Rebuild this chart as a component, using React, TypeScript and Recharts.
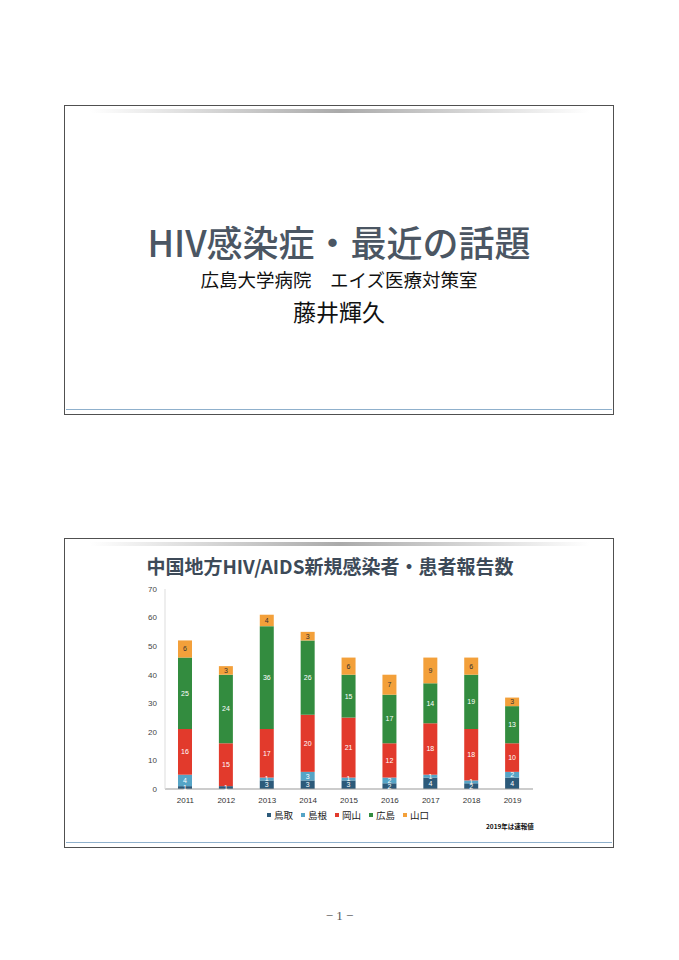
import React from 'react';
import { BarChart, Bar, XAxis, YAxis, LabelList } from 'recharts';

const years = ['2011', '2012', '2013', '2014', '2015', '2016', '2017', '2018', '2019'];
const tottori = [1, 1, 3, 3, 3, 2, 4, 2, 4];
const shimane = [4, 0, 1, 3, 1, 2, 1, 1, 2];
const okayama = [16, 15, 17, 20, 21, 12, 18, 18, 10];
const hiroshima = [25, 24, 36, 26, 15, 17, 14, 19, 13];
const yamaguchi = [6, 3, 4, 3, 6, 7, 9, 6, 3];
const yTicks = [0, 10, 20, 30, 40, 50, 60, 70];

const series = [
  { key: 'tottori', name: '鳥取', color: '#2c5a7a', label: '#ffffff' },
  { key: 'shimane', name: '島根', color: '#55a4c6', label: '#ffffff' },
  { key: 'okayama', name: '岡山', color: '#e23a2c', label: '#ffffff' },
  { key: 'hiroshima', name: '広島', color: '#338c3f', label: '#ffffff' },
  { key: 'yamaguchi', name: '山口', color: '#f3a03a', label: '#333333' },
];

const data = years.map((year, i) => ({
  year,
  tottori: tottori[i],
  shimane: shimane[i],
  okayama: okayama[i],
  hiroshima: hiroshima[i],
  yamaguchi: yamaguchi[i],
}));

const jp = '"Noto Sans CJK JP", "Noto Sans", sans-serif';
const latin = 'Liberation Sans, Arial, sans-serif';

const Frame = ({ top }: { top: number }) => (
  <>
    <div
      style={{
        position: 'absolute',
        left: 64,
        top,
        width: 550,
        height: 310,
        border: '1.5px solid #505050',
        boxSizing: 'border-box',
        background: '#fff',
      }}
    />
    <div
      style={{
        position: 'absolute',
        left: 90,
        top: top + 4,
        width: 500,
        height: 4,
        background: 'linear-gradient(to right, rgba(200,200,200,0), #aaa 50%, rgba(200,200,200,0))',
      }}
    />
    <div
      style={{
        position: 'absolute',
        left: 66,
        top: top + 304,
        width: 546,
        height: 1,
        background: '#8fb0cc',
      }}
    />
  </>
);

export default function App() {
  return (
    <div style={{ position: 'absolute', left: 0, top: 0, width: 679, height: 960, background: '#fff', fontFamily: jp }}>
      <Frame top={105} />
      <Frame top={538} />

      <div style={{ position: 'absolute', left: 64, width: 550, top: 218, textAlign: 'center', fontSize: 36, fontWeight: 500, color: '#4b5663', lineHeight: '46px' }}>
        HIV感染症・最近の話題
      </div>
      <div style={{ position: 'absolute', left: 64, width: 550, top: 267, textAlign: 'center', fontSize: 18.5, color: '#111', lineHeight: '24px' }}>
        広島大学病院　エイズ医療対策室
      </div>
      <div style={{ position: 'absolute', left: 64, width: 550, top: 296, textAlign: 'center', fontSize: 23, color: '#111', lineHeight: '30px' }}>
        藤井輝久
      </div>

      <div style={{ position: 'absolute', left: 55, width: 550, top: 552, textAlign: 'center', fontSize: 19, fontWeight: 700, color: '#3d4a58', lineHeight: '27px' }}>
        中国地方HIV/AIDS新規感染者・患者報告数
      </div>

      <div style={{ position: 'absolute', left: 115, top: 580 }}>
        <BarChart
          width={430}
          height={228}
          data={data}
          margin={{ top: 9, right: 12, left: 0, bottom: 0 }}
          barSize={14}
        >
          <XAxis
            dataKey="year"
            tickLine={false}
            axisLine={{ stroke: '#999' }}
            tick={{ fontSize: 8, fill: '#333', fontFamily: latin }}
            height={19}
          />
          <YAxis
            domain={[0, 70]}
            ticks={yTicks}
            width={50}
            tickLine={false}
            axisLine={{ stroke: '#ddd' }}
            tick={{ fontSize: 8, fill: '#444', fontFamily: latin }}
            interval={0}
          />
          {series.map((s) => (
            <Bar key={s.key} dataKey={s.key} name={s.name} stackId="a" fill={s.color} isAnimationActive={false}>
              <LabelList dataKey={s.key} position="center" fontSize={7} fill={s.label} fontFamily={latin} />
            </Bar>
          ))}
        </BarChart>
      </div>

      <div style={{ position: 'absolute', left: 267, top: 808, display: 'flex', gap: 8, fontSize: 9.5, color: '#222', lineHeight: '14px' }}>
        {series.map((s) => (
          <span key={s.key} style={{ display: 'flex', alignItems: 'center' }}>
            <span style={{ display: 'inline-block', width: 4, height: 4, background: s.color, marginRight: 3 }} />
            {s.name}
          </span>
        ))}
      </div>
      <div style={{ position: 'absolute', left: 486, top: 821, fontSize: 6.5, fontWeight: 700, color: '#111' }}>
        2019年は速報値
      </div>

      <div style={{ position: 'absolute', left: 0, width: 679, top: 908, textAlign: 'center', fontSize: 13, color: '#555', fontFamily: 'serif' }}>
        − 1 −
      </div>
    </div>
  );
}
